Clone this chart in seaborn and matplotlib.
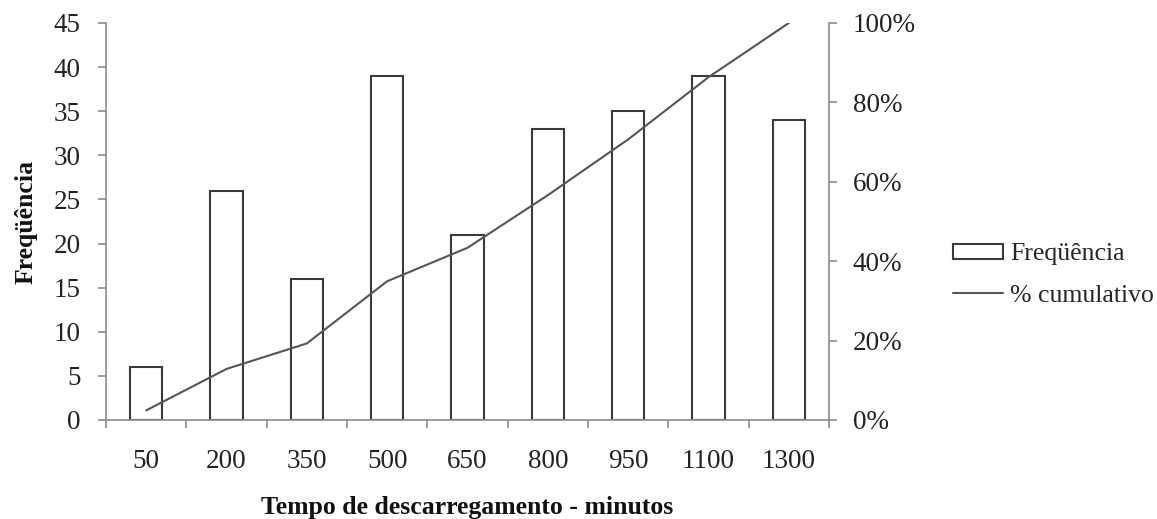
import matplotlib
matplotlib.use("Agg")
import matplotlib.pyplot as plt
from matplotlib.patches import Patch
from matplotlib.lines import Line2D
from matplotlib.ticker import FixedLocator, PercentFormatter
import numpy as np
import pandas as pd
import seaborn as sns

# Discharge time classes (minutes) and their frequencies
classes = ["50", "200", "350", "500", "650", "800", "950", "1100", "1300"]
frequency = [6, 26, 16, 39, 21, 33, 35, 39, 34]

cumulative_pct = np.cumsum(frequency) / np.sum(frequency) * 100

df = pd.DataFrame({"classe": classes, "freq": frequency, "cum": cumulative_pct})

sns.set_theme(style="white")
plt.rcParams["font.family"] = ["Liberation Serif", "DejaVu Serif"]

FS = 19.5
LABEL_FS = 18.5
AXIS_GREY = "#8c8c8c"
INK = "#3a3a3a"

fig = plt.figure(figsize=(11.57, 5.19), dpi=100)
ax = fig.add_axes([0.0916, 0.1908, 0.6249, 0.7649])

sns.barplot(data=df, x="classe", y="freq", ax=ax, width=0.4,
            color="white", edgecolor=INK, linewidth=1.5, saturation=1)

ax2 = ax.twinx()
sns.lineplot(x=np.arange(len(classes)), y=df["cum"], ax=ax2,
             color="#555555", linewidth=1.5)

n = len(classes)
ax.set_xlim(-0.5, n - 0.5)
ax.set_ylim(0, 45)
ax.set_yticks(np.arange(0, 46, 5))
ax2.set_ylim(0, 100)
ax2.set_yticks(np.arange(0, 101, 20))
ax2.yaxis.set_major_formatter(PercentFormatter(decimals=0))

# Category labels centred, tick marks on category boundaries
ax.set_xticks(np.arange(n))
ax.set_xticklabels(classes)
ax.xaxis.set_minor_locator(FixedLocator(np.arange(-0.5, n, 1.0)))
ax.tick_params(axis="x", which="major", length=0, pad=21, labelsize=FS,
               labelcolor="#222222")
ax.tick_params(axis="x", which="minor", length=6, width=1.2, color=AXIS_GREY,
               direction="out", bottom=True)
ax.tick_params(axis="y", length=6, width=1.2, color=AXIS_GREY, direction="out",
               left=True, pad=12, labelsize=FS, labelcolor="#222222")
ax2.tick_params(axis="y", length=6, width=1.2, color=AXIS_GREY, direction="out",
                right=True, pad=11, labelsize=FS, labelcolor="#222222")

for a in (ax, ax2):
    a.spines["top"].set_visible(False)
    for side in ("left", "right", "bottom"):
        a.spines[side].set_color(AXIS_GREY)
        a.spines[side].set_linewidth(1.2)
ax.spines["right"].set_visible(False)
ax2.spines["left"].set_visible(False)
ax2.spines["bottom"].set_visible(False)

ax.set_xlabel("Tempo de descarregamento - minutos", fontsize=LABEL_FS,
              fontweight="bold", labelpad=16, color="#111111")
ax.set_ylabel("Freqüência", fontsize=LABEL_FS, fontweight="bold", labelpad=12,
              color="#111111")
ax2.set_ylabel("")
ax.grid(False)
ax2.grid(False)

handles = [
    Patch(facecolor="white", edgecolor=INK, linewidth=1.5, label="Freqüência"),
    Line2D([0], [0], color="#555555", linewidth=1.5, label="% cumulativo"),
]
fig.legend(handles=handles, loc="center left", bbox_to_anchor=(0.824, 0.47),
           frameon=False, fontsize=18.5, handlelength=1.95, handleheight=0.5,
           handletextpad=0.25, labelspacing=0.75, borderpad=0, borderaxespad=0)

fig.savefig("out.png", dpi=100)
